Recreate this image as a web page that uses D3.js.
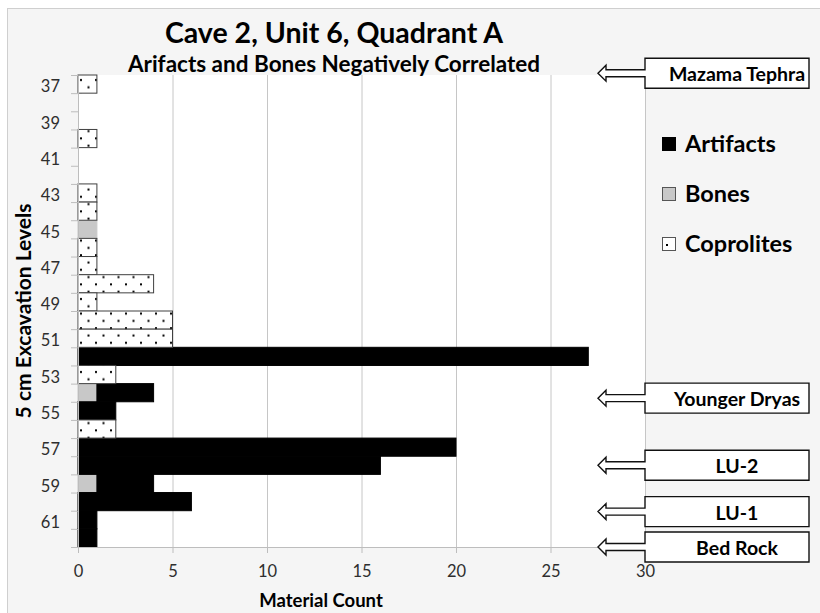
<!DOCTYPE html>
<html lang="en">
<head>
<meta charset="UTF-8">
<script src="https://d3js.org/d3.v7.min.js"></script>
<title>index</title>
<style>
  body { margin: 0; background: #fff; }
  svg text { font-family: Lato, "Open Sans", sans-serif; }
</style>
</head>
<body>
<div id="chart"></div>
<script>
// excavation levels, top to bottom
var levels = [37,38,39,40,41,42,43,44,45,46,47,48,49,50,51,52,53,54,55,56,57,58,59,60,61,62];
var artifacts  = [0,0,0,0,0,0,0,0,0,0,0,0,0,0,0,27,0,3,2,0,20,16,3,6,1,1];
var bones      = [0,0,0,0,0,0,0,0,1,0,0,0,0,0,0,0,0,1,0,0,0,0,1,0,0,0];
var coprolites = [1,0,0,1,0,0,1,1,0,1,1,4,1,5,5,0,2,0,0,2,0,0,0,0,0,0];
var seriesNames = ['Artifacts', 'Bones', 'Coprolites'];
var levelLabels = [37,39,41,43,45,47,49,51,53,55,57,59,61];
var countTicks = [0,5,10,15,20,25,30];
var markerNames  = ['Mazama Tephra', 'Younger Dryas', 'LU-2', 'LU-1', 'Bed Rock'];
var markerLevels = [36.4, 54.3, 58.0, 60.55, 62.5];

var width = 820, height = 613;
var pLeft = 78, pRight = 645, pTop = 75, pBottom = 547;

var svg = d3.select('#chart').append('svg')
    .attr('width', width)
    .attr('height', height);

var defs = svg.append('defs');
var pat = defs.append('pattern')
    .attr('id', 'dots')
    .attr('patternUnits', 'userSpaceOnUse')
    .attr('x', pLeft).attr('y', pTop)
    .attr('width', 15).attr('height', 14.6);
pat.append('rect').attr('width', 15).attr('height', 14.6).attr('fill', '#fff');
pat.append('rect').attr('x', 2).attr('y', 4).attr('width', 2).attr('height', 2).attr('fill', '#000');
pat.append('rect').attr('x', 9.5).attr('y', 11.3).attr('width', 2).attr('height', 2).attr('fill', '#000');

// chart area
svg.append('rect')
    .attr('x', 7.5).attr('y', 8.5)
    .attr('width', 900).attr('height', 700)
    .attr('fill', '#f5f5f5')
    .attr('stroke', '#cfcfcf');

var y = d3.scaleBand().domain(levels).range([pTop, pBottom]).padding(0);
var yPos = d3.scaleLinear().domain([36.5, 62.5]).range([pTop, pBottom]);
var x = d3.scaleLinear().domain([0, 30]).range([pLeft, pRight]);

svg.append('rect')
    .attr('x', pLeft).attr('y', pTop)
    .attr('width', pRight - pLeft).attr('height', pBottom - pTop)
    .attr('fill', '#fff');

// gridlines
svg.append('g').selectAll('line')
    .data(countTicks.slice(1))
    .enter().append('line')
        .attr('x1', function(d) { return x(d) + 0.5; })
        .attr('x2', function(d) { return x(d) + 0.5; })
        .attr('y1', pTop).attr('y2', pBottom)
        .attr('stroke', '#c6c6c6');

// bars
var rows = levels.map(function(l, i) {
    return { level: l, Artifacts: artifacts[i], Bones: bones[i], Coprolites: coprolites[i] };
});
var stack = d3.stack().keys(['Bones', 'Artifacts', 'Coprolites']);
var fills = { Artifacts: '#000', Bones: '#c8c8c8', Coprolites: 'url(#dots)' };
var strokes = { Artifacts: '#000', Bones: '#c8c8c8', Coprolites: '#404040' };

var layer = svg.append('g').selectAll('g')
    .data(stack(rows))
    .enter().append('g');

layer.selectAll('rect')
    .data(function(s) {
        return s.filter(function(d) { return d[1] > d[0]; })
                .map(function(d) { return { key: s.key, d: d }; });
    })
    .enter().append('rect')
        .attr('x', function(p) { return x(p.d[0]); })
        .attr('y', function(p) { return y(p.d.data.level); })
        .attr('width', function(p) { return x(p.d[1]) - x(p.d[0]); })
        .attr('height', y.bandwidth())
        .attr('fill', function(p) { return fills[p.key]; })
        .attr('stroke', function(p) { return strokes[p.key]; })
        .attr('stroke-width', 1);

// y axis
var yAxis = d3.axisLeft(y).tickSize(0).tickFormat(function(d) {
    return levelLabels.indexOf(d) >= 0 ? d : '';
});
var gy = svg.append('g').attr('transform', 'translate(' + pLeft + ',0)').call(yAxis);
gy.select('.domain').attr('stroke', '#bdbdbd');
gy.selectAll('text')
    .attr('x', -18).attr('dy', '0.5em')
    .style('font-size', '16.5px').attr('fill', '#2e2e2e');
svg.append('g').selectAll('line')
    .data(levels.concat([63]))
    .enter().append('line')
        .attr('x1', pLeft - 7).attr('x2', pLeft)
        .attr('y1', function(d, i) { return pTop + i * y.bandwidth() + 0.5; })
        .attr('y2', function(d, i) { return pTop + i * y.bandwidth() + 0.5; })
        .attr('stroke', '#bdbdbd');

// x axis
var xAxis = d3.axisBottom(x).tickValues(countTicks).tickSize(6).tickPadding(12);
var gx = svg.append('g').attr('transform', 'translate(0,' + pBottom + ')').call(xAxis);
gx.select('.domain').attr('stroke', '#bdbdbd');
gx.selectAll('line').attr('stroke', '#bdbdbd');
gx.selectAll('text').style('font-size', '16.5px').attr('fill', '#2e2e2e');

// titles
svg.append('text')
    .attr('x', 334).attr('y', 43)
    .attr('text-anchor', 'middle')
    .style('font-size', '28.5px').style('font-weight', 'bold')
    .text('Cave 2, Unit 6, Quadrant A');
svg.append('text')
    .attr('x', 334).attr('y', 72)
    .attr('text-anchor', 'middle')
    .style('font-size', '22.5px').style('font-weight', 'bold')
    .text('Arifacts and Bones Negatively Correlated');
svg.append('text')
    .attr('x', 321).attr('y', 607)
    .attr('text-anchor', 'middle')
    .style('font-size', '18.5px').style('font-weight', 'bold')
    .text('Material Count');
svg.append('text')
    .attr('transform', 'translate(31,311) rotate(-90)')
    .attr('text-anchor', 'middle')
    .style('font-size', '21px').style('font-weight', 'bold')
    .text('5 cm Excavation Levels');

// legend
var legend = svg.append('g').selectAll('g')
    .data(seriesNames)
    .enter().append('g')
        .attr('transform', function(d, i) { return 'translate(662,' + (137 + i * 50) + ')'; });
legend.append('rect')
    .attr('x', 0.5).attr('y', 0.5)
    .attr('width', 13).attr('height', 13)
    .attr('fill', function(d) { return d === 'Coprolites' ? '#fff' : fills[d]; })
    .attr('stroke', function(d) { return d === 'Artifacts' ? '#000' : '#555'; });
legend.filter(function(d) { return d === 'Coprolites'; })
    .append('rect')
        .attr('x', 4).attr('y', 7).attr('width', 2).attr('height', 2).attr('fill', '#000');
legend.append('text')
    .attr('x', 23).attr('y', 15)
    .style('font-size', '23.5px').style('font-weight', 'bold')
    .text(function(d) { return d; });

// stratigraphic markers
var marker = svg.append('g').selectAll('g')
    .data(markerNames)
    .enter().append('g')
        .attr('transform', function(d, i) { return 'translate(0,' + yPos(markerLevels[i]) + ')'; });
marker.append('path')
    .attr('d', 'M645,-15 H809 V15 H645 V3.5 H606 V8 L598,0 L606,-8 V-3.5 H645 Z')
    .attr('fill', '#fff')
    .attr('stroke', '#111')
    .attr('stroke-width', 1.4);
marker.append('text')
    .attr('x', 737).attr('y', 8)
    .attr('text-anchor', 'middle')
    .style('font-size', '19.5px').style('font-weight', 'bold')
    .text(function(d) { return d; });
</script>
</body>
</html>
